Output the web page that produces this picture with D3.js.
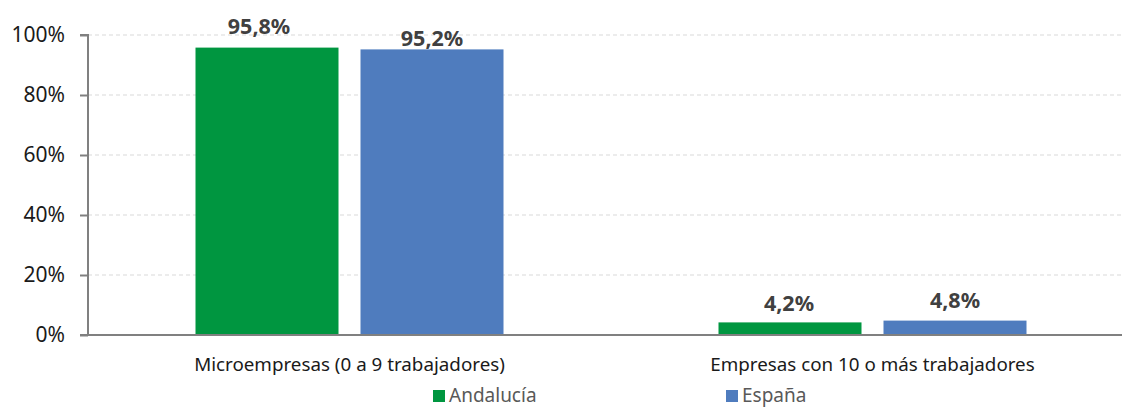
<!DOCTYPE html>
<html>
<head>
<meta charset="utf-8">
<script src="https://cdn.jsdelivr.net/npm/d3@7"></script>
<style>
  html, body { margin: 0; padding: 0; background: #fff; }
  svg { display: block; font-family: "Noto Sans", sans-serif; }
</style>
</head>
<body>
<svg id="chart"></svg>
<script>
// Chart data
const categories = ['Microempresas (0 a 9 trabajadores)', 'Empresas con 10 o más trabajadores'];
const seriesNames = ['Andalucía', 'España'];
const andaluciaValues = [95.8, 4.2];
const espanaValues = [95.2, 4.8];
const yTicks = [0, 20, 40, 60, 80, 100];

const COLORS = { 'Andalucía': '#009640', 'España': '#4f7cbe' };

const W = 1122, H = 407;
const plot = { left: 88, right: 1134, top: 35, bottom: 335 };

const svg = d3.select('#chart').attr('width', W).attr('height', H);

const x0 = d3.scaleBand()
  .domain(categories)
  .range([plot.left, plot.right])
  .padding(0);

const x1 = d3.scaleBand()
  .domain(seriesNames)
  .range([0, x0.bandwidth()])
  .paddingInner(22 / 165)
  .paddingOuter(0.6515);

const y = d3.scaleLinear().domain([0, 100]).range([plot.bottom, plot.top]);

// Gridlines
svg.append('g')
  .selectAll('line')
  .data(yTicks.filter(t => t > 0))
  .enter().append('line')
  .attr('x1', plot.left).attr('x2', W)
  .attr('y1', d => y(d)).attr('y2', d => y(d))
  .attr('stroke', '#d9d9d9')
  .attr('stroke-width', 1)
  .attr('stroke-dasharray', '4,3');

// Rows of data, one per category
const rows = categories.map((c, i) => ({
  category: c,
  values: [
    { series: 'Andalucía', value: andaluciaValues[i] },
    { series: 'España', value: espanaValues[i] }
  ]
}));

// label nudges [dx, gap above bar top] as placed in the original
const labelNudge = {
  'Andalucía': [[-8, 14], [-1, 11]],
  'España': [[0, 3], [0, 13]]
};

const group = svg.selectAll('.group')
  .data(rows)
  .enter().append('g')
  .attr('class', 'group')
  .attr('transform', d => `translate(${x0(d.category)},0)`);

group.selectAll('rect')
  .data(d => d.values)
  .enter().append('rect')
  .attr('x', d => x1(d.series))
  .attr('y', d => y(d.value))
  .attr('width', x1.bandwidth())
  .attr('height', d => y(0) - y(d.value))
  .attr('fill', d => COLORS[d.series]);

group.each(function(row, ci) {
  d3.select(this).selectAll('text.val')
    .data(row.values)
    .enter().append('text')
    .attr('class', 'val')
    .attr('x', d => x1(d.series) + x1.bandwidth() / 2 + labelNudge[d.series][ci][0])
    .attr('y', d => y(d.value) - labelNudge[d.series][ci][1])
    .attr('text-anchor', 'middle')
    .style('font-size', '21.5px')
    .style('font-weight', 'bold')
    .style('fill', '#404040')
    .text(d => d.value.toFixed(1).replace('.', ',') + '%');
});

// Y axis
const yAxis = svg.append('g')
  .attr('transform', `translate(${plot.left},0)`)
  .call(d3.axisLeft(y).tickValues(yTicks).tickSize(8).tickPadding(15).tickFormat(d => d + '%'));
yAxis.select('.domain').attr('stroke', '#808080').attr('stroke-width', 2)
  .attr('d', `M-8,${y(100)}H0V${y(0)}`);
yAxis.selectAll('.tick line').attr('stroke', '#808080').attr('stroke-width', 2);
yAxis.selectAll('.tick text')
  .style('font-size', '21px')
  .style('fill', '#1a1a1a')
  .style('font-family', '"Noto Sans", sans-serif');

// X baseline
svg.append('line')
  .attr('x1', plot.left - 8).attr('x2', W)
  .attr('y1', y(0)).attr('y2', y(0))
  .attr('stroke', '#808080')
  .attr('stroke-width', 2);

// Category labels
svg.selectAll('.cat')
  .data(categories)
  .enter().append('text')
  .attr('class', 'cat')
  .attr('x', d => x0(d) + x0.bandwidth() / 2)
  .attr('y', 371)
  .attr('text-anchor', 'middle')
  .style('font-size', '18.8px')
  .style('fill', '#1a1a1a')
  .text(d => d);

// Legend
const legendX = [433, 726];
const legend = svg.selectAll('.legend')
  .data(seriesNames)
  .enter().append('g')
  .attr('class', 'legend')
  .attr('transform', (d, i) => `translate(${legendX[i]},390)`);

legend.append('rect')
  .attr('width', 12).attr('height', 12)
  .attr('fill', d => COLORS[d]);

legend.append('text')
  .attr('x', 16).attr('y', 11.5)
  .style('font-size', '19px')
  .style('fill', '#595959')
  .text(d => d);
</script>
</body>
</html>
